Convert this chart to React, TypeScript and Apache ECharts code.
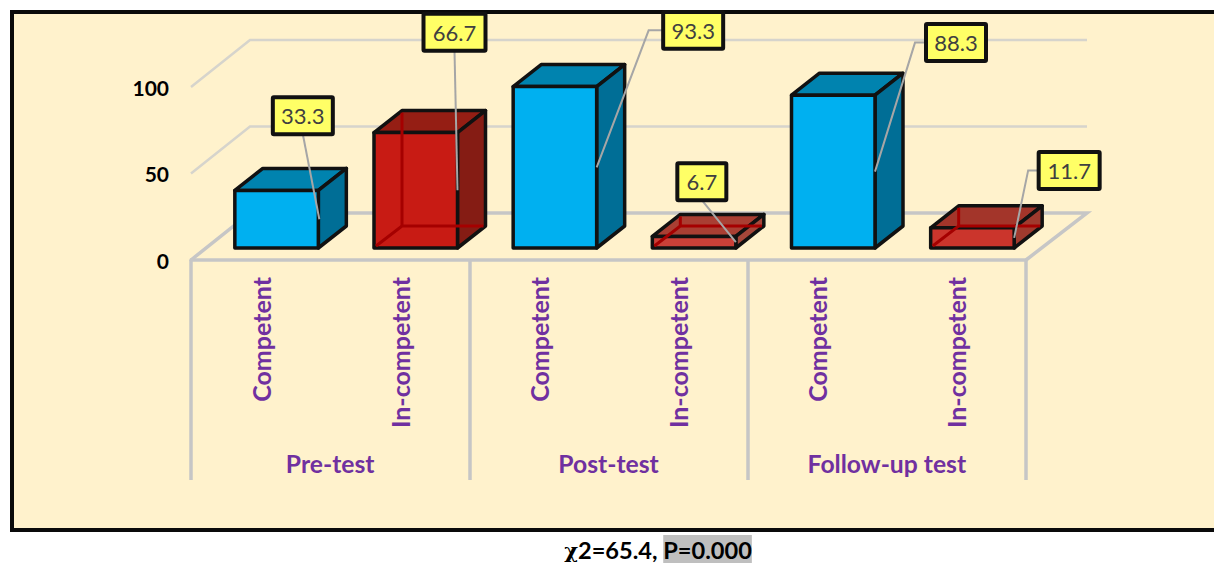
import React, { useEffect, useRef } from "react";
import * as echarts from "echarts";

const subCategories = ["Competent", "In-competent", "Competent", "In-competent", "Competent", "In-competent"];
const testGroups = ["Pre-test", "Post-test", "Follow-up test"];
const percentValues = [33.3, 66.7, 93.3, 6.7, 88.3, 11.7];
const valueTicks = [0, 50, 100];
const footerChi = "χ";
const footerStat = "2=65.4, ";
const footerP = "P=0.000";

// Callout box centre relative to the middle of the bar's front-right edge
const calloutLayout = [
  { dx: -16.5, dy: -103.5, w: 60, elbow: null },
  { dx: -3, dy: -158, w: 62, elbow: null },
  { dx: 96.5, dy: -137, w: 60, elbow: 52 },
  { dx: -34, dy: -60.5, w: 49, elbow: null },
  { dx: 81, dy: -129, w: 60, elbow: 40 },
  { dx: 55, dy: -67.5, w: 61, elbow: 14 },
];

const faceStyles = [
  { front: "#00B0F0", top: "#0083AF", side: "#006E96" },
  { front: "#C81B14", top: "#951E14", side: "#851C14" },
  { front: "#00B0F0", top: "#0083AF", side: "#006E96" },
  { front: "#CB4038", top: "#A93F33", side: "#A5473A" },
  { front: "#00B0F0", top: "#0083AF", side: "#006E96" },
  { front: "#CB352C", top: "#A3352A", side: "#A03A2E" },
];

const FONT = "Lato, Carlito, sans-serif";
const GREY = "#C6C6C6";
const FRAME_INNER_TOP = 12;

function renderFrame(params: any, api: any) {
  const v = api.value(1);
  const cs = params.coordSys;
  const left = cs.x;
  const right = cs.x + cs.width;
  const y = api.coord([0, v])[1];
  if (v === 0) {
    return {
      type: "polyline",
      shape: { points: [[left, y], [left + 59, y - 47], [right + 61, y - 47], [right, y]] },
      style: { stroke: GREY, lineWidth: 3.5, fill: null },
      silent: true,
    };
  }
  return {
    type: "polyline",
    shape: { points: [[left, y], [left + 59, y - 47], [right + 61, y - 47]] },
    style: { stroke: "#D6D4CC", lineWidth: 2.5, fill: null },
    silent: true,
  };
}

function renderBar(params: any, api: any) {
  const i = params.dataIndex;
  const val = api.value(1);
  const base = api.coord([i, 0]);
  const topPt = api.coord([i, val]);
  const bw = api.size([1, 0])[0] * 0.6;
  const cx = base[0] + 16;
  const x0 = cx - bw / 2;
  const x1 = cx + bw / 2;
  const y0 = base[1] - 12;
  const y1 = topPt[1] - 12;
  const ox = 28;
  const oy = -22;
  const f = faceStyles[i];
  const edge = { stroke: "#111111", lineWidth: 3.5, lineJoin: "round" };
  const poly = (points: number[][], fill: string) => ({
    type: "polygon",
    shape: { points },
    style: { fill, ...edge },
    silent: true,
  });
  const inner = (points: number[][]) => ({
    type: "polyline",
    shape: { points },
    style: { stroke: "#A50000", lineWidth: 3, fill: null },
    silent: true,
  });
  const children: any[] = [
    poly([[x0, y1], [x1, y1], [x1 + ox, y1 + oy], [x0 + ox, y1 + oy]], f.top),
    poly([[x1, y0], [x1, y1], [x1 + ox, y1 + oy], [x1 + ox, y0 + oy]], f.side),
    poly([[x0, y0], [x1, y0], [x1, y1], [x0, y1]], f.front),
  ];
  if (i % 2 === 1) {
    children.push(
      inner([[x0 + 2, y0 - 2], [x0 + ox, y0 + oy], [x1 + ox - 2, y0 + oy]]),
      inner([[x0 + ox, y0 + oy], [x0 + ox, y1 + oy + 2]])
    );
  }
  const ax = x1 + (i === 0 ? 1 : 0);
  const ay = (y0 + y1) / 2;
  const c = calloutLayout[i];
  const bx = ax + c.dx;
  const by = ay + c.dy;
  const bh = 37;
  const boxTop = Math.max(by - bh / 2, FRAME_INNER_TOP);
  const boxBottom = by + bh / 2;
  const leader =
    c.elbow !== null
      ? [[ax, ay], [ax + c.elbow, by], [bx - c.w / 2, by]]
      : [[ax, ay], [bx, boxBottom]];
  children.push(
    {
      type: "polyline",
      shape: { points: leader },
      style: { stroke: "#A6A6A6", lineWidth: 2, fill: null },
      silent: true,
    },
    {
      type: "rect",
      shape: { x: bx - c.w / 2, y: boxTop, width: c.w, height: boxBottom - boxTop, r: 1 },
      style: { fill: "#FFFF66", stroke: "#111111", lineWidth: 4 },
      silent: true,
    },
    {
      type: "text",
      x: bx,
      y: by,
      style: {
        text: String(val),
        fill: "#404040",
        font: `22px ${FONT}`,
        align: "center",
        verticalAlign: "middle",
      },
      silent: true,
    }
  );
  return { type: "group", children };
}

export default function App() {
  const ref = useRef<HTMLDivElement>(null);
  useEffect(() => {
    if (!ref.current) return;
    const chart = echarts.init(ref.current, undefined, { renderer: "svg" });
    chart.setOption({
      animation: false,
      backgroundColor: "#FFFFFF",
      title: {
        left: 658,
        top: 535,
        textAlign: "center",
        padding: 0,
        text: `{chi|${footerChi}}{stat|${footerStat}}{p|${footerP}}`,
        textStyle: {
          rich: {
            chi: { fontFamily: "DejaVu Serif", fontSize: 21, fontWeight: "bold", color: "#000" },
            stat: { fontFamily: FONT, fontSize: 23.6, fontWeight: "bold", color: "#000" },
            p: { fontFamily: FONT, fontSize: 23.6, fontWeight: "bold", color: "#000", backgroundColor: "#BFBFBF", padding: [3, 0, 3, 0] },
          },
        },
      },
      graphic: [
        {
          type: "rect",
          z: -10,
          shape: { x: 12, y: 12, width: 1260, height: 518 },
          style: { fill: "#FFF2CC", stroke: "#0A0A0A", lineWidth: 4 },
          silent: true,
        },
      ],
      grid: { left: 191, top: 87, width: 835, height: 173, containLabel: false },
      xAxis: [
        {
          type: "category",
          data: subCategories,
          position: "bottom",
          axisLine: { show: true, lineStyle: { color: GREY, width: 3.5 } },
          axisTick: { show: false },
          axisLabel: {
            interval: 0,
            rotate: 90,
            margin: 17,
            color: "#7030A0",
            fontFamily: FONT,
            fontWeight: "bold",
            fontSize: 25,
          },
        },
        {
          type: "category",
          data: testGroups,
          position: "bottom",
          axisLine: { show: false },
          axisTick: { show: true, length: 220, lineStyle: { color: GREY, width: 3.5 } },
          axisLabel: {
            interval: 0,
            margin: 191,
            color: "#7030A0",
            fontFamily: FONT,
            fontWeight: "bold",
            fontSize: 24.7,
          },
        },
      ],
      yAxis: {
        type: "value",
        min: 0,
        max: 100,
        interval: 50,
        axisLine: { show: false },
        axisTick: { show: false },
        splitLine: { show: false },
        axisLabel: {
          margin: 22,
          color: "#000000",
          fontFamily: FONT,
          fontWeight: "bold",
          fontSize: 21,
          formatter: (v: number) => (valueTicks.includes(v) ? String(v) : ""),
        },
      },
      series: [
        {
          type: "custom",
          name: "frame",
          z: 1,
          xAxisIndex: 0,
          renderItem: renderFrame,
          data: valueTicks.map((v) => [0, v]),
          silent: true,
        },
        {
          type: "custom",
          name: "Percent",
          z: 2,
          xAxisIndex: 0,
          renderItem: renderBar,
          data: percentValues.map((v, i) => [i, v]),
          silent: true,
        },
      ],
    });
    return () => chart.dispose();
  }, []);
  return (
    <div
      ref={ref}
      style={{ position: "absolute", left: 0, top: 0, width: 1214, height: 563 }}
    />
  );
}
